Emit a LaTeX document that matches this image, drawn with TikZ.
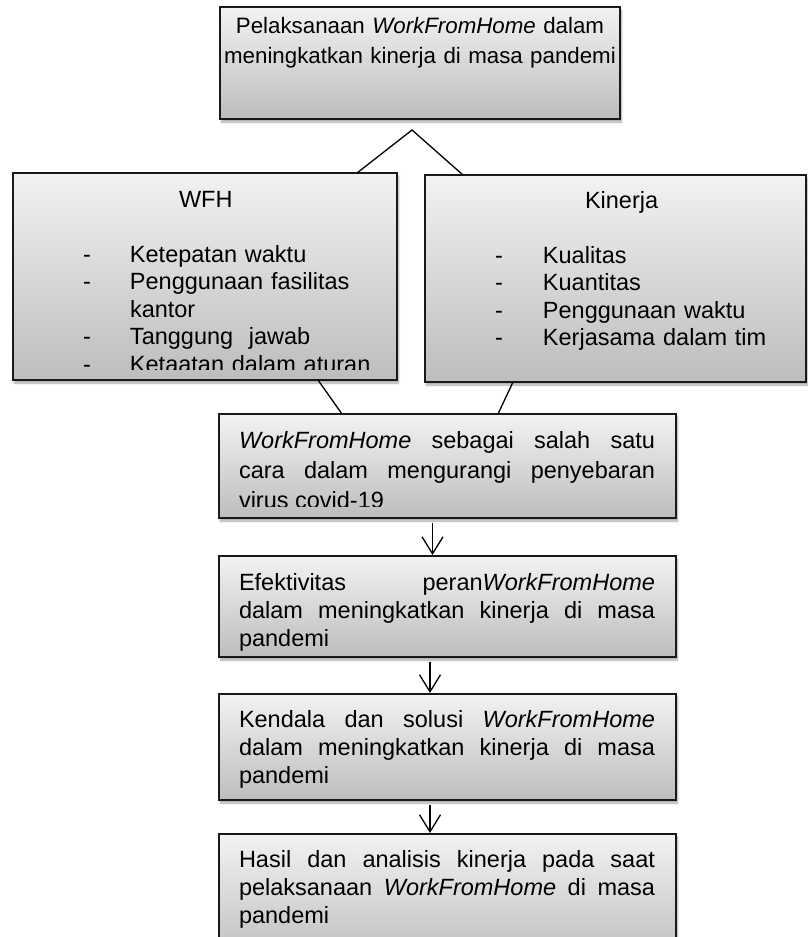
\documentclass[tikz,border=0pt]{standalone}
\usepackage{fontspec}
\setmainfont{Liberation Sans}
\usetikzlibrary{arrows.meta,shadows.blur}

\begin{document}
\begin{tikzpicture}[x=1pt,y=-1pt]
\tikzstyle{every node}=[inner sep=0pt, outer sep=0pt]
\tikzstyle{box}=[draw=black!90, line width=2pt, top color=gray!10, bottom color=gray!52, anchor=north west,
  blur shadow={shadow xshift=1.5pt, shadow yshift=-3pt, shadow blur steps=6, shadow opacity=35}]
\tikzstyle{txt}=[anchor=base west, font=\fontsize{23.5}{28}\selectfont, align=justify]
\tikzstyle{link}=[line width=1.3pt]
\tikzstyle{flow}=[line width=1.3pt, -{Straight Barb[length=17pt,width=21pt]}, shorten <=5pt, shorten >=1pt]
\useasboundingbox (0,0) rectangle (808,937);
\clip (0,0) rectangle (808,937);

% boxes
\node[box, minimum width=400pt, minimum height=112pt] (top) at (220,7) {};
\node[box, minimum width=384pt, minimum height=207pt] (wfh) at (13,173) {};
\node[box, minimum width=381pt, minimum height=207pt] (kin) at (425,175) {};
\node[box, minimum width=457pt, minimum height=104pt] (cara) at (219,414) {};
\node[box, minimum width=457pt, minimum height=101pt] (efek) at (219,556) {};
\node[box, minimum width=457pt, minimum height=106pt] (kend) at (219,694) {};
\node[box, minimum width=457pt, minimum height=130pt] (hasil) at (219,834) {};

% texts
\node[txt, text width=460pt, align=center, font=\fontsize{22.3}{30}\selectfont] (top-t) at (190,33)
  {Pelaksanaan \textit{WorkFromHome} dalam\\meningkatkan kinerja di masa pandemi};
\begin{scope}
\clip (13,173) rectangle (397,369);
\node[txt, text width=384pt, align=left, font=\fontsize{23.5}{27.5}\selectfont] (wfh-t) at (13,207)
  {\hspace*{166pt}WFH\\[27.5pt]
   \hspace*{70pt}\makebox[47pt][l]{-}Ketepatan waktu\\
   \hspace*{70pt}\makebox[47pt][l]{-}Penggunaan fasilitas\\
   \hspace*{117pt}kantor\\
   \hspace*{70pt}\makebox[47pt][l]{-}Tanggung\ \ jawab\\
   \hspace*{70pt}\makebox[47pt][l]{-}Ketaatan dalam aturan};
\end{scope}
\node[txt, text width=381pt, align=left, font=\fontsize{23.5}{27.5}\selectfont] (kin-t) at (425,208)
  {\hspace*{160pt}Kinerja\\[27.5pt]
   \hspace*{70pt}\makebox[48pt][l]{-}Kualitas\\
   \hspace*{70pt}\makebox[48pt][l]{-}Kuantitas\\
   \hspace*{70pt}\makebox[48pt][l]{-}Penggunaan waktu\\
   \hspace*{70pt}\makebox[48pt][l]{-}Kerjasama dalam tim};
\begin{scope}
\clip (219,414) rectangle (676,506);
\node[txt, text width=416pt, font=\fontsize{23.5}{30}\selectfont] (cara-t) at (239,448)
  {\textit{WorkFromHome} sebagai salah satu\linebreak cara dalam mengurangi penyebaran\linebreak virus covid-19};
\end{scope}
\node[txt, text width=416pt] (efek-t) at (239,590)
  {Efektivitas peran\textit{WorkFromHome}\linebreak dalam meningkatkan kinerja di masa\linebreak pandemi};
\node[txt, text width=416pt] (kend-t) at (239,727)
  {Kendala dan solusi \textit{WorkFromHome}\linebreak dalam meningkatkan kinerja di masa\linebreak pandemi};
\node[txt, text width=416pt] (hasil-t) at (239,867)
  {Hasil dan analisis kinerja pada saat\linebreak pelaksanaan \textit{WorkFromHome} di masa\linebreak pandemi};

% connectors
\coordinate (apex) at (412,130);
\draw[link] ([xshift=152pt]wfh.north) -- (apex) -- ([xshift=-152.5pt]kin.north);
\draw[link] ([xshift=113pt]wfh.south) -- ([xshift=-105.5pt]cara.north);
\draw[link] ([xshift=-102.5pt]kin.south) -- ([xshift=50.5pt]cara.north);
\draw[flow] ([xshift=-15pt]cara.south) -- ([xshift=-15pt]efek.north);
\draw[flow] ([xshift=-17.5pt]efek.south) -- ([xshift=-17.5pt]kend.north);
\draw[flow] ([xshift=-17.5pt]kend.south) -- ([xshift=-17.5pt]hasil.north);
\end{tikzpicture}
\end{document}
